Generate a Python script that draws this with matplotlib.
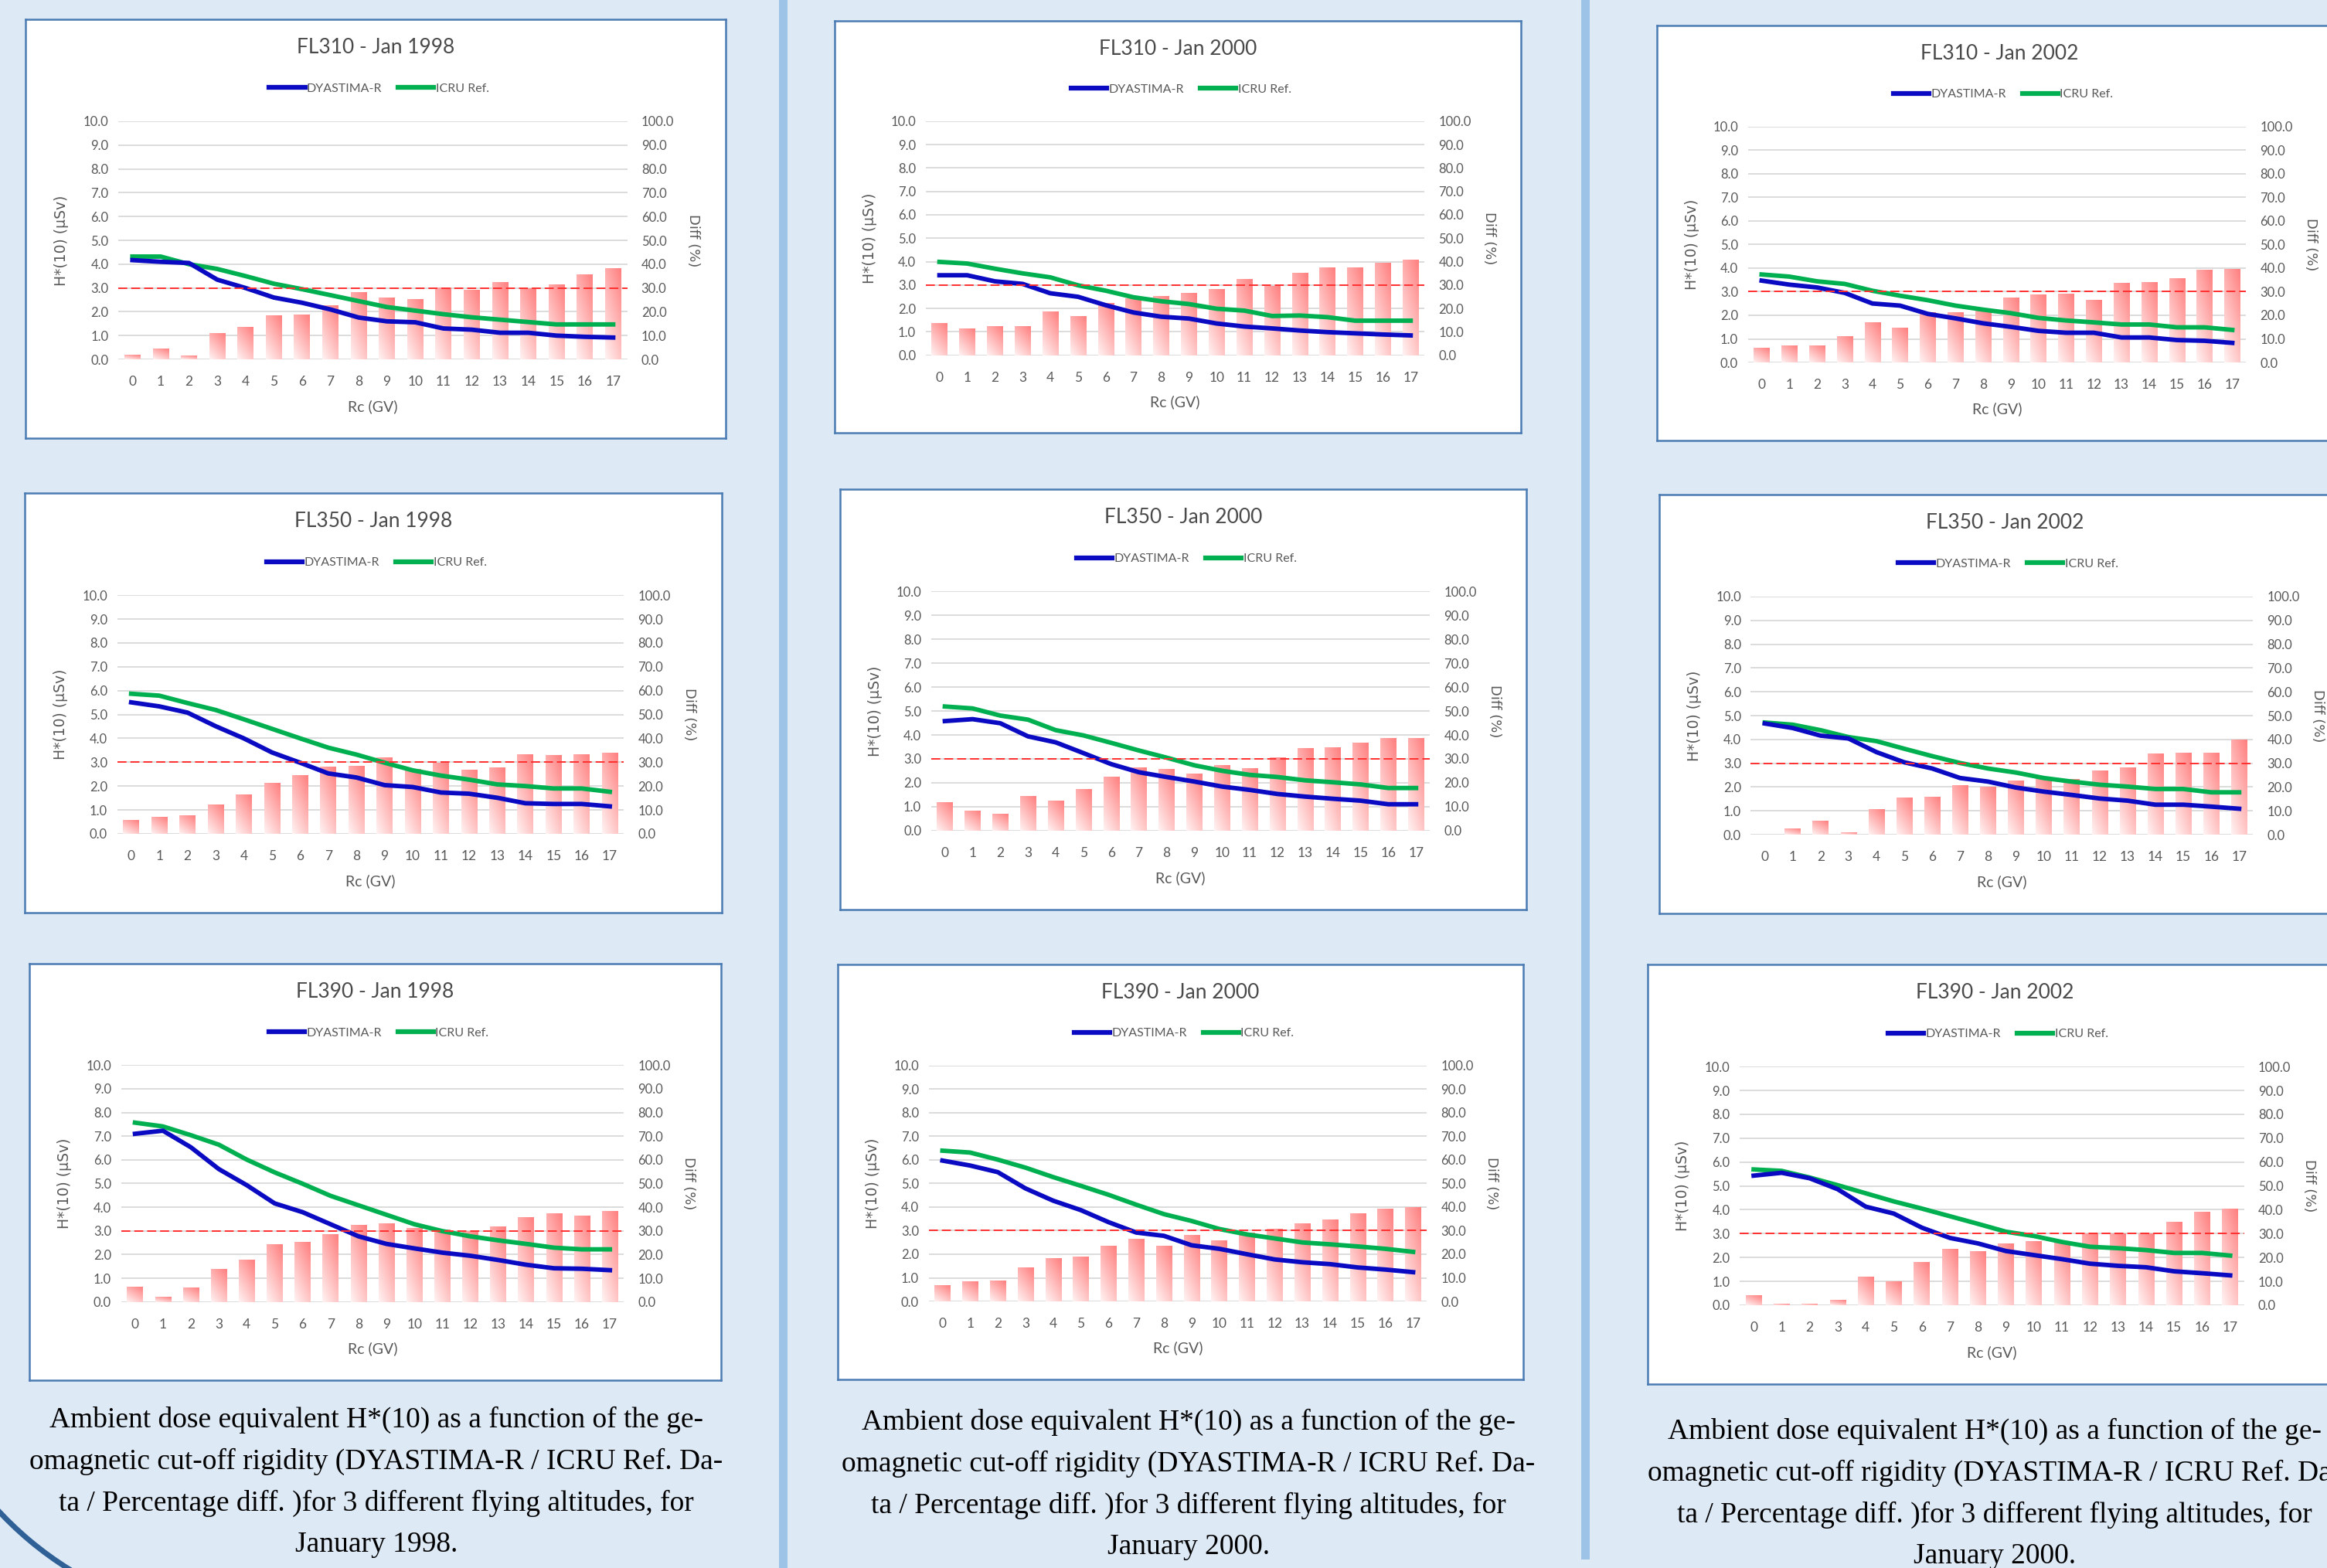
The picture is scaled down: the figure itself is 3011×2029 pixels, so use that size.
import numpy as np
import matplotlib
matplotlib.use("Agg")
import matplotlib.pyplot as plt
from matplotlib.patches import Rectangle, Arc
from matplotlib.lines import Line2D

plt.rcParams['font.family'] = ['Lato', 'DejaVu Sans']

# cut-off rigidity categories
rc_gv = list(range(18))

# FL310 - Jan 1998
dyas_310_98 = [4.17, 4.1, 4.05, 3.35, 3.0, 2.6, 2.38, 2.1, 1.76, 1.6, 1.56, 1.3, 1.25, 1.12, 1.12, 1.0, 0.95, 0.92]
icru_310_98 = [4.32, 4.32, 4.0, 3.8, 3.5, 3.18, 2.95, 2.7, 2.45, 2.2, 2.05, 1.9, 1.77, 1.67, 1.57, 1.47, 1.47, 1.47]
diff_310_98 = [1.9, 4.4, 1.5, 11.0, 13.6, 18.4, 18.7, 22.7, 28.0, 25.9, 25.3, 30.0, 28.9, 32.3, 29.8, 31.4, 35.4, 38.0]
# FL310 - Jan 2000
dyas_310_00 = [3.42, 3.42, 3.16, 3.05, 2.65, 2.5, 2.14, 1.83, 1.65, 1.57, 1.36, 1.23, 1.15, 1.06, 0.99, 0.94, 0.89, 0.85]
icru_310_00 = [3.99, 3.92, 3.7, 3.5, 3.33, 2.99, 2.76, 2.48, 2.31, 2.19, 1.99, 1.91, 1.68, 1.7, 1.63, 1.48, 1.48, 1.48]
diff_310_00 = [13.7, 11.5, 12.3, 12.3, 18.8, 16.8, 22.2, 24.4, 25.3, 26.7, 28.2, 32.4, 29.7, 35.0, 37.3, 37.3, 39.5, 40.7]
# FL310 - Jan 2002
dyas_310_02 = [3.47, 3.3, 3.18, 2.95, 2.5, 2.41, 2.06, 1.87, 1.66, 1.51, 1.34, 1.26, 1.26, 1.06, 1.06, 0.95, 0.92, 0.83]
icru_310_02 = [3.73, 3.64, 3.44, 3.33, 3.04, 2.83, 2.64, 2.41, 2.24, 2.09, 1.89, 1.78, 1.7, 1.61, 1.61, 1.49, 1.49, 1.38]
diff_310_02 = [6.0, 7.2, 6.9, 10.9, 16.9, 14.7, 21.2, 21.2, 21.8, 27.3, 28.6, 29.0, 26.4, 33.5, 33.8, 35.6, 39.0, 39.6]

# FL350 - Jan 1998
dyas_350_98 = [5.51, 5.34, 5.08, 4.51, 4.0, 3.41, 2.98, 2.53, 2.36, 2.04, 1.96, 1.73, 1.68, 1.51, 1.28, 1.25, 1.25, 1.15]
icru_350_98 = [5.87, 5.79, 5.48, 5.19, 4.8, 4.4, 4.0, 3.61, 3.32, 2.98, 2.66, 2.44, 2.27, 2.07, 2.0, 1.9, 1.9, 1.76]
diff_350_98 = [5.8, 7.1, 7.5, 12.2, 16.2, 21.1, 24.6, 27.9, 28.5, 31.9, 27.0, 29.8, 26.6, 27.6, 33.2, 32.9, 33.2, 33.8]
# FL350 - Jan 2000
dyas_350_00 = [4.58, 4.66, 4.49, 3.94, 3.69, 3.24, 2.78, 2.44, 2.24, 2.05, 1.84, 1.7, 1.53, 1.42, 1.33, 1.25, 1.1, 1.1]
icru_350_00 = [5.19, 5.11, 4.81, 4.64, 4.2, 3.98, 3.67, 3.35, 3.05, 2.73, 2.5, 2.33, 2.24, 2.1, 2.02, 1.93, 1.78, 1.78]
diff_350_00 = [11.7, 8.2, 6.8, 14.5, 12.5, 17.3, 22.5, 26.5, 25.6, 23.9, 27.3, 25.9, 30.5, 34.3, 34.9, 36.6, 38.6, 38.6]
# FL350 - Jan 2002
dyas_350_02 = [4.67, 4.48, 4.16, 4.04, 3.47, 3.04, 2.78, 2.38, 2.23, 1.98, 1.81, 1.67, 1.52, 1.43, 1.26, 1.26, 1.18, 1.09]
icru_350_02 = [4.71, 4.62, 4.39, 4.1, 3.93, 3.61, 3.3, 3.01, 2.78, 2.61, 2.38, 2.23, 2.1, 2.02, 1.92, 1.92, 1.78, 1.78]
diff_350_02 = [0.0, 2.4, 5.7, 0.7, 10.7, 15.5, 15.8, 20.7, 19.8, 22.5, 23.3, 23.3, 26.9, 28.1, 33.8, 34.1, 34.1, 39.9]

# FL390 - Jan 1998
dyas_390_98 = [7.1, 7.23, 6.53, 5.61, 4.93, 4.16, 3.79, 3.28, 2.77, 2.45, 2.26, 2.08, 1.95, 1.77, 1.57, 1.42, 1.4, 1.34]
icru_390_98 = [7.57, 7.41, 7.04, 6.64, 6.01, 5.47, 4.99, 4.48, 4.08, 3.68, 3.28, 2.99, 2.77, 2.6, 2.45, 2.29, 2.22, 2.22]
diff_390_98 = [6.4, 2.1, 6.0, 13.8, 17.7, 24.3, 25.4, 28.6, 32.6, 33.0, 31.1, 30.5, 30.0, 31.7, 35.6, 37.4, 36.4, 38.2]
# FL390 - Jan 2000
dyas_390_00 = [5.97, 5.76, 5.48, 4.79, 4.27, 3.87, 3.36, 2.92, 2.78, 2.38, 2.23, 2.0, 1.78, 1.66, 1.58, 1.44, 1.35, 1.24]
icru_390_00 = [6.39, 6.31, 6.01, 5.67, 5.27, 4.9, 4.52, 4.1, 3.7, 3.41, 3.07, 2.84, 2.67, 2.5, 2.42, 2.33, 2.23, 2.1]
diff_390_00 = [6.6, 8.4, 8.7, 14.1, 18.1, 18.9, 23.3, 26.3, 23.3, 28.1, 25.8, 29.0, 30.7, 33.0, 34.4, 37.3, 39.1, 39.9]
# FL390 - Jan 2002
dyas_390_02 = [5.43, 5.55, 5.32, 4.86, 4.13, 3.84, 3.25, 2.82, 2.59, 2.27, 2.1, 1.93, 1.74, 1.65, 1.59, 1.42, 1.34, 1.25]
icru_390_02 = [5.69, 5.63, 5.35, 5.03, 4.69, 4.35, 4.05, 3.73, 3.41, 3.08, 2.9, 2.65, 2.45, 2.39, 2.31, 2.19, 2.19, 2.08]
diff_390_02 = [4.1, 0.5, 0.5, 2.0, 11.9, 10.0, 18.0, 23.6, 22.5, 25.9, 26.8, 26.5, 29.9, 30.1, 29.9, 34.8, 39.0, 40.3]

ref_level = 3.0  # dashed reference on the dose axis

titles = ['FL310 - Jan 1998', 'FL310 - Jan 2000', 'FL310 - Jan 2002',
          'FL350 - Jan 1998', 'FL350 - Jan 2000', 'FL350 - Jan 2002',
          'FL390 - Jan 1998', 'FL390 - Jan 2000', 'FL390 - Jan 2002']
dyas_all = [dyas_310_98, dyas_310_00, dyas_310_02, dyas_350_98, dyas_350_00,
            dyas_350_02, dyas_390_98, dyas_390_00, dyas_390_02]
icru_all = [icru_310_98, icru_310_00, icru_310_02, icru_350_98, icru_350_00,
            icru_350_02, icru_390_98, icru_390_00, icru_390_02]
diff_all = [diff_310_98, diff_310_00, diff_310_02, diff_350_98, diff_350_00,
            diff_350_02, diff_390_98, diff_390_00, diff_390_02]

caption_lines = ['Ambient dose equivalent H*(10) as a function of the ge-',
                 'omagnetic cut-off rigidity (DYASTIMA-R / ICRU Ref. Da-',
                 'ta / Percentage diff. )for 3 different flying altitudes, for']
caption_months = ['January 1998.', 'January 2000.', 'January 2000.']

# panel frames in pixels: left, top, right, bottom
boxes = [(33, 25, 939, 567), (1080, 27, 1968, 560), (2144, 33, 3031, 570),
         (32, 638, 934, 1181), (1087, 633, 1975, 1177), (2147, 640, 3041, 1182),
         (38, 1247, 933, 1786), (1084, 1248, 1971, 1785), (2132, 1248, 3030, 1791)]

W, H = 3011, 2029
BG = '#dee9f6'
EDGE = '#4a7bb3'
BLUE = '#0a0ac2'
GREEN = '#00b050'
TXT = '#595959'

fig = plt.figure(figsize=(W / 100, H / 100), dpi=100, facecolor=BG)


def fbox(l, t, r, b):
    return [l / W, 1 - b / H, (r - l) / W, (b - t) / H]


# bar gradient (bottom/left light -> top/right pink)
v = np.linspace(0, 1, 64)[:, None]
u = np.linspace(0, 1, 16)[None, :]
t = np.clip(0.62 * v + 0.38 * u, 0, 1)
light = np.array([1.0, 0.95, 0.95])
dark = np.array([1.0, 0.50, 0.50])
grad = light + (dark - light) * t[..., None]


def draw_panel(title, dyas, icru, diff, box):
    l, t_, r, b = box
    pw, ph = r - l, b - t_
    frame = fig.add_axes(fbox(*box), zorder=0)
    frame.set_facecolor('white')
    frame.set_xticks([])
    frame.set_yticks([])
    for s in frame.spines.values():
        s.set_color(EDGE)
        s.set_linewidth(1.8)
    frame.text(0.5, 0.932, title, ha='center', va='center', fontsize=19, color='#4a4a4a')
    handles = [Line2D([], [], color=BLUE, lw=4.5), Line2D([], [], color=GREEN, lw=4.5)]
    frame.legend(handles, ['DYASTIMA-R', 'ICRU Ref.'], loc='center',
                 bbox_to_anchor=(0.505, 0.834), ncol=2, frameon=False,
                 fontsize=11.5, handlelength=2.9, handletextpad=0.15,
                 columnspacing=1.3, labelcolor=TXT)

    ax = fig.add_axes([(l + 0.1325 * pw) / W, 1 - (b - 0.188 * ph) / H,
                       0.727 * pw / W, 0.5685 * ph / H])
    ax2 = ax.twinx()
    ax.set_zorder(2)
    ax2.set_zorder(1)
    ax.patch.set_visible(False)
    ax2.patch.set_visible(False)

    bars = ax2.bar(rc_gv, diff, width=0.57, color='none', edgecolor='none')
    for p in bars:
        if p.get_height() <= 0:
            continue
        ax2.imshow(grad, extent=[p.get_x(), p.get_x() + p.get_width(), 0, p.get_height()],
                   origin='lower', aspect='auto', interpolation='bilinear', zorder=2)
    ax2.set_ylim(0, 100)
    ax2.set_yticks(np.arange(0, 101, 10))
    ax2.set_yticklabels([f'{y:.1f}' for y in np.arange(0, 101, 10)])
    ax2.yaxis.grid(True, color='#d9d9d9', lw=1.3)
    ax2.set_axisbelow(True)

    ax.plot(rc_gv, icru, color=GREEN, lw=4.2, solid_joinstyle='round', zorder=3)
    ax.plot(rc_gv, dyas, color=BLUE, lw=4.2, solid_joinstyle='round', zorder=4)
    ax.axhline(ref_level, color='#ff3030', lw=1.4, ls=(0, (6, 2.6)), zorder=5, clip_on=False)

    ax.set_xlim(-0.5, 17.5)
    ax2.set_xlim(-0.5, 17.5)
    ax.set_ylim(0, 10)
    ax.set_yticks(np.arange(0, 11))
    ax.set_yticklabels([f'{y:.1f}' for y in np.arange(0, 11)])
    ax.set_xticks(rc_gv)
    ax.set_xticklabels([str(x) for x in rc_gv])

    for a in (ax, ax2):
        for s in a.spines.values():
            s.set_visible(False)
    ax.tick_params(axis='y', length=0, pad=9, labelsize=12, labelcolor=TXT)
    ax.tick_params(axis='x', length=0, pad=15, labelsize=12.5, labelcolor=TXT)
    ax2.tick_params(axis='y', length=0, pad=13, labelsize=12, labelcolor=TXT)

    ax.set_xlabel('Rc (GV)', fontsize=14, color=TXT, va='center')
    ax.xaxis.set_label_coords(0.5, -0.198)
    ax.set_ylabel('H*(10) (µSv)', fontsize=13.5, color=TXT, family='DejaVu Sans',
                  va='center')
    ax.yaxis.set_label_coords(-0.112, 0.5)
    ax2.set_ylabel('Diff (%)', fontsize=13, color=TXT, family='DejaVu Sans',
                   rotation=270, va='center')
    ax2.yaxis.set_label_coords(1.129, 0.5)


for i in range(9):
    draw_panel(titles[i], dyas_all[i], icru_all[i], diff_all[i], boxes[i])

# column separators
for x0, y1 in [(1008, 2029), (2046, 2018)]:
    fig.add_artist(Rectangle((x0 / W, 1 - y1 / H), 11 / W, y1 / H,
                             transform=fig.transFigure, facecolor='#9dc3e6',
                             edgecolor='none', zorder=0))

# captions (the third column runs past the right edge, as in the source page)
col_x = [487, 1538, 2581]
col_y = [1837, 1840, 1852]
for cx, cy, month in zip(col_x, col_y, caption_months):
    for k, line in enumerate(caption_lines + [month]):
        fig.text(cx / W, 1 - (cy + k * 54) / H, line, ha='center', va='center',
                 fontsize=27, family='Liberation Serif', color='black')

# rounded corner of the page shape, bottom left
R = 449
fig.add_artist(Arc((327 / W, 1 - 1649.5 / H), 2 * R / W, 2 * R / H, theta1=205,
                   theta2=265, transform=fig.transFigure, color='#2f6096', lw=5))

fig.savefig('out.png', dpi=100, facecolor=BG)
